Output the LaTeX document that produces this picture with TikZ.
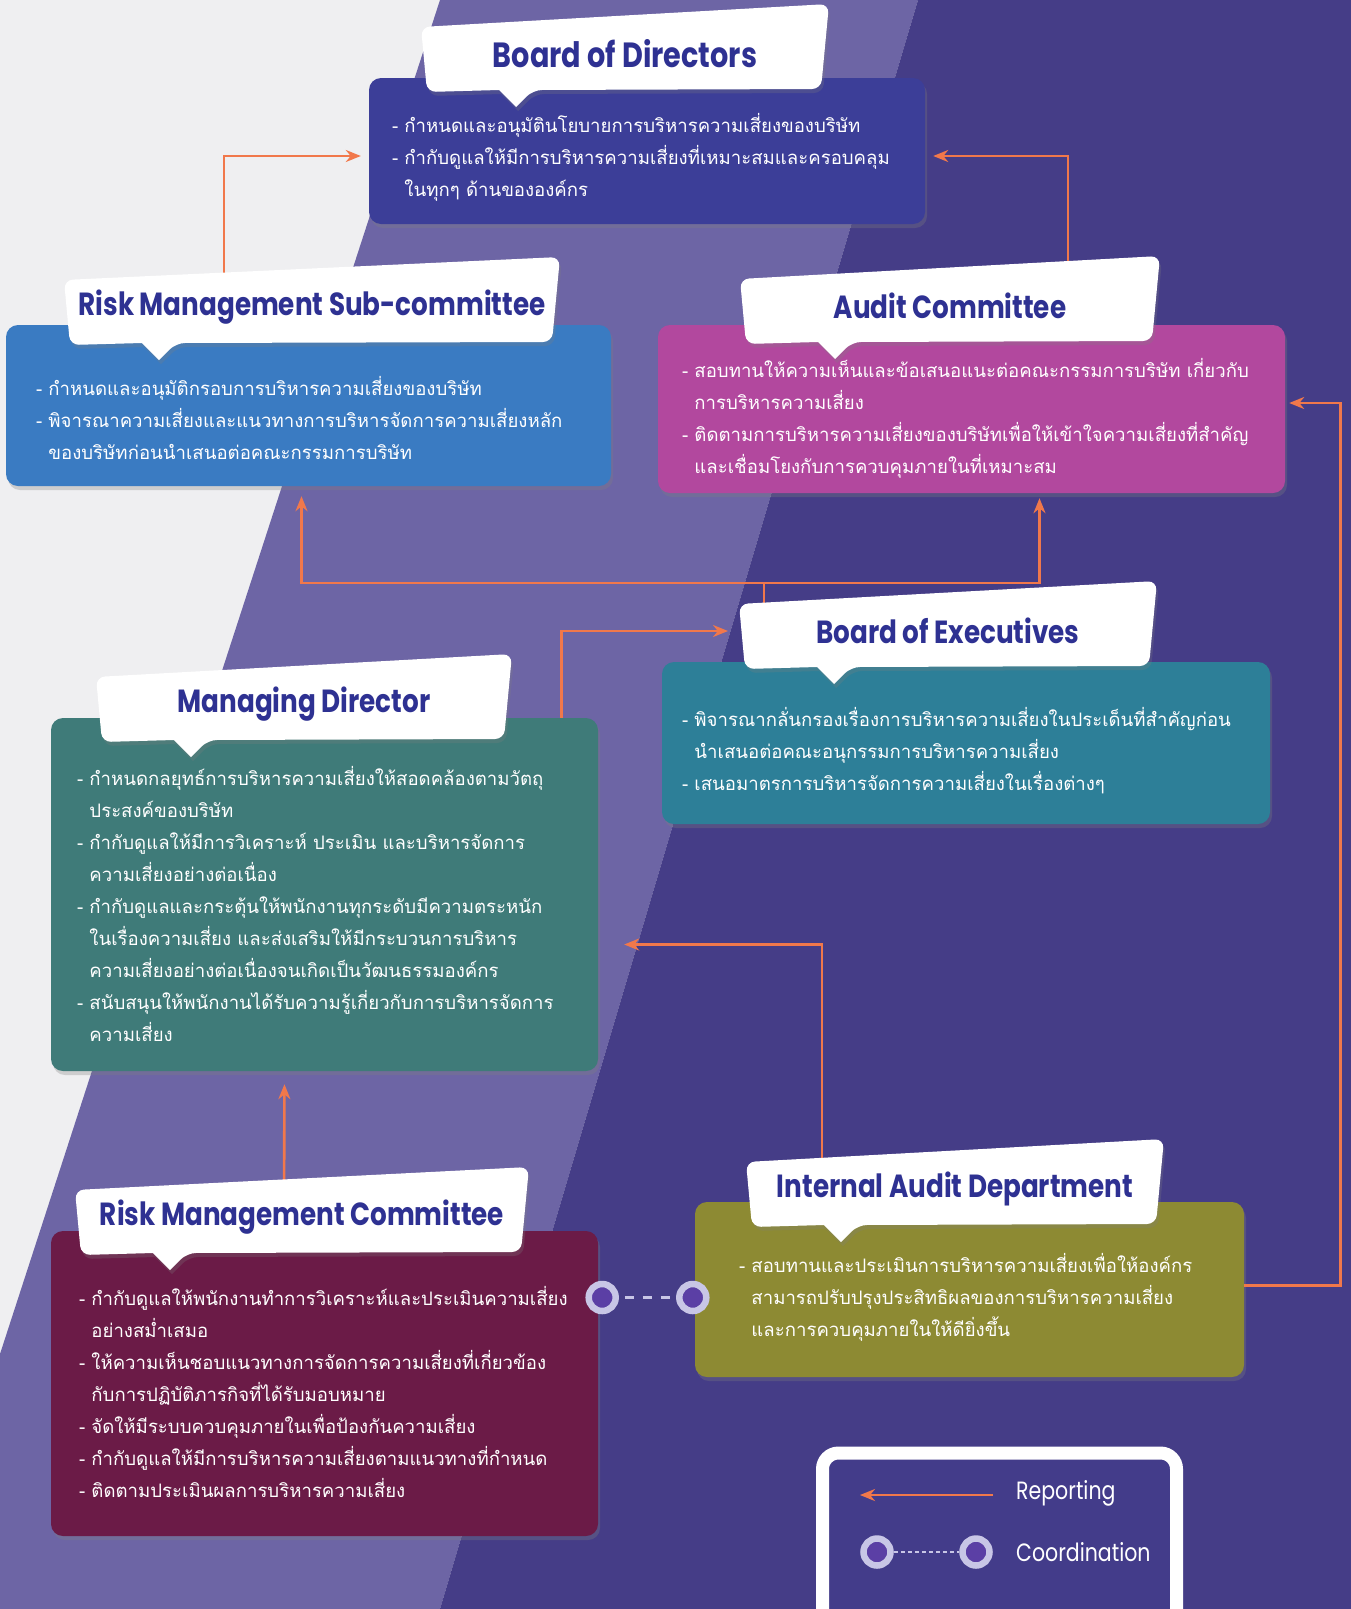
\documentclass[tikz,border=0pt]{standalone}
\usepackage{fontspec}
\setmainfont{Poppins}[FakeStretch=0.82]
\newfontfamily\thaifont[Script=Thai]{Loma}
\usetikzlibrary{arrows.meta,calc,shadows}

\definecolor{bgGray}{HTML}{EFEFF1}
\definecolor{bgBand}{HTML}{6D65A5}
\definecolor{bgDark}{HTML}{453D87}
\definecolor{bodFill}{HTML}{3C3E98}
\definecolor{rmsFill}{HTML}{3A7BC2}
\definecolor{acFill}{HTML}{B2489E}
\definecolor{boeFill}{HTML}{2D7F98}
\definecolor{mdFill}{HTML}{3F7B79}
\definecolor{rmcFill}{HTML}{6B1B47}
\definecolor{iadFill}{HTML}{8D8A33}
\definecolor{titleBlue}{HTML}{2E3192}
\definecolor{repOrange}{HTML}{F1784B}
\definecolor{ringLight}{HTML}{C8C6E6}
\definecolor{ringFill}{HTML}{5B3FA5}
\definecolor{legendFill}{HTML}{433C8A}

\newcommand{\cont}{\hphantom{- }}
% white title tab round the coordinate (#2T)
\newcommand{\tabshape}[4][]{%
  \fill[tabfill] ($(#2T)+(-#3,-27)$) -- ($(#2T)+(#3,-50)$) -- ($(#2T)+(#3-8,35)$)
    -- ($(#2T)+(-#3+112,36)$) [sharp corners] -- ($(#2T)+(-#3+95,53)$)
    -- ($(#2T)+(-#3+78,36)$) [rounded corners=9pt] -- ($(#2T)+(-#3+6,38)$) -- cycle;
  \node[ttl,#1] (#2Title) at (#2T) {#4};}

\begin{document}
\begin{tikzpicture}[x=1pt, y=-1pt,
  body/.style={rectangle, rounded corners=12pt, inner sep=0pt,
    drop shadow={opacity=0.3, shadow xshift=2pt, shadow yshift=-4pt}},
  txt/.style={text=white, align=left, anchor=west, inner sep=0pt,
    font=\thaifont\fontsize{18.6}{32}\selectfont},
  ttl/.style={text=titleBlue, inner sep=0pt, font=\fontsize{32}{36}\selectfont\bfseries},
  tabfill/.style={fill=white, rounded corners=9pt,
    drop shadow={opacity=0.25, shadow xshift=2pt, shadow yshift=-4pt}},
  rep/.style={draw=repOrange, line width=2.6pt, -{Stealth[length=15pt, width=12pt]}},
  link/.style={draw=repOrange, line width=2.6pt},
  ring/.style={circle, draw=ringLight, line width=6.5pt, fill=ringFill,
    minimum size=27pt, inner sep=0pt},
  lgd/.style={text=white, anchor=west, inner sep=0pt, font=\fontsize{25}{28}\selectfont}]

  % background
  \useasboundingbox (0,0) rectangle (1351,1609);
  \fill[bgGray] (0,0) rectangle (1351,1609);
  \fill[bgBand] (440,0) -- (918,0) -- (440,1609) -- (0,1609) -- (0,1354) -- cycle;
  \fill[bgDark] (918,0) -- (1351,0) -- (1351,1609) -- (440,1609) -- cycle;

  % boxes
  \node[body, fill=bodFill, minimum width=556pt, minimum height=146pt] (bod) at (647,151) {};
  \node[txt] (bodx) at ([shift={(23,6)}]bod.west)
    {- กำหนดและอนุมัตินโยบายการบริหารความเสี่ยงของบริษัท\\
     - กำกับดูแลให้มีการบริหารความเสี่ยงที่เหมาะสมและครอบคลุม\\
     \cont ในทุกๆ ด้านขององค์กร};

  \node[body, fill=rmsFill, minimum width=605pt, minimum height=161pt] (rms) at (308.5,405.5) {};
  \node[txt] (rmsx) at ([shift={(30,12)}]rms.west)
    {- กำหนดและอนุมัติกรอบการบริหารความเสี่ยงของบริษัท\\
     - พิจารณาความเสี่ยงและแนวทางการบริหารจัดการความเสี่ยงหลัก\\
     \cont ของบริษัทก่อนนำเสนอต่อคณะกรรมการบริษัท};

  \node[body, fill=acFill, minimum width=627pt, minimum height=168pt] (ac) at (971.5,409) {};
  \node[txt] (acx) at ([shift={(24,9)}]ac.west)
    {- สอบทานให้ความเห็นและข้อเสนอแนะต่อคณะกรรมการบริษัท เกี่ยวกับ\\
     \cont การบริหารความเสี่ยง\\
     - ติดตามการบริหารความเสี่ยงของบริษัทเพื่อให้เข้าใจความเสี่ยงที่สำคัญ\\
     \cont และเชื่อมโยงกับการควบคุมภายในที่เหมาะสม};

  \node[body, fill=boeFill, minimum width=608pt, minimum height=162pt] (boe) at (966,743) {};
  \node[txt] (boex) at ([shift={(20,8)}]boe.west)
    {- พิจารณากลั่นกรองเรื่องการบริหารความเสี่ยงในประเด็นที่สำคัญก่อน\\
     \cont นำเสนอต่อคณะอนุกรรมการบริหารความเสี่ยง\\
     - เสนอมาตรการบริหารจัดการความเสี่ยงในเรื่องต่างๆ};

  \node[body, fill=mdFill, minimum width=547pt, minimum height=353pt] (md) at (324.5,894.5) {};
  \node[txt] (mdx) at ([shift={(26,9)}]md.west)
    {- กำหนดกลยุทธ์การบริหารความเสี่ยงให้สอดคล้องตามวัตถุ\\
     \cont ประสงค์ของบริษัท\\
     - กำกับดูแลให้มีการวิเคราะห์ ประเมิน และบริหารจัดการ\\
     \cont ความเสี่ยงอย่างต่อเนื่อง\\
     - กำกับดูแลและกระตุ้นให้พนักงานทุกระดับมีความตระหนัก\\
     \cont ในเรื่องความเสี่ยง และส่งเสริมให้มีกระบวนการบริหาร\\
     \cont ความเสี่ยงอย่างต่อเนื่องจนเกิดเป็นวัฒนธรรมองค์กร\\
     - สนับสนุนให้พนักงานได้รับความรู้เกี่ยวกับการบริหารจัดการ\\
     \cont ความเสี่ยง};

  \node[body, fill=rmcFill, minimum width=547pt, minimum height=305pt] (rmc) at (324.5,1383.5) {};
  \node[txt] (rmcx) at ([shift={(28,8)}]rmc.west)
    {- กำกับดูแลให้พนักงานทำการวิเคราะห์และประเมินความเสี่ยง\\
     \cont อย่างสม่ำเสมอ\\
     - ให้ความเห็นชอบแนวทางการจัดการความเสี่ยงที่เกี่ยวข้อง\\
     \cont กับการปฏิบัติภารกิจที่ได้รับมอบหมาย\\
     - จัดให้มีระบบควบคุมภายในเพื่อป้องกันความเสี่ยง\\
     - กำกับดูแลให้มีการบริหารความเสี่ยงตามแนวทางที่กำหนด\\
     - ติดตามประเมินผลการบริหารความเสี่ยง};

  \node[body, fill=iadFill, minimum width=549pt, minimum height=175pt] (iad) at (969.5,1289.5) {};
  \node[txt] (iadx) at ([shift={(44,8)}]iad.west)
    {- สอบทานและประเมินการบริหารความเสี่ยงเพื่อให้องค์กร\\
     \cont สามารถปรับปรุงประสิทธิผลของการบริหารความเสี่ยง\\
     \cont และการควบคุมภายในให้ดียิ่งขึ้น};

  % tab centres
  \coordinate (bodT) at (625,54);
  \coordinate (rmsT) at (312,307);
  \coordinate (acT) at (950,306);
  \coordinate (boeT) at (948,631);
  \coordinate (mdT) at (304,704);
  \coordinate (rmcT) at (302,1217);
  \coordinate (iadT) at (955,1189);
  \coordinate (split) at (764,583);

  % reporting lines
  \draw[rep, shorten >=8pt] ([xshift=-88pt]rmsT) |- ([yshift=-5pt]bod.west);
  \draw[rep, shorten >=8pt] ([xshift=118pt]acT) |- ([yshift=-5pt]bod.east);
  \draw[link] (boeT -| split) -- (split);
  \draw[rep, shorten >=10pt] (split) -| ([xshift=-7pt]rms.south);
  \draw[rep, shorten >=5pt] (split) -| ([xshift=68pt]ac.south);
  \draw[rep, shorten >=11pt] ([xshift=-37pt]md.north east) |- ([xshift=-209pt]boeT);
  \draw[rep, shorten >=26pt] ([xshift=-133pt]iadT) |- ([yshift=-50pt]md.east);
  \draw[rep, shorten >=4pt] ([yshift=4pt]iad.east) -- ++(96,0) |- ([yshift=6pt]ac.east);
  \draw[rep, shorten >=13pt] ([xshift=-18pt]rmcT) -- ([xshift=-40pt]md.south);

  % coordination
  \node[ring, xshift=4pt] (ringL) at (rmc.east |- iadx.west) {};
  \node[ring, xshift=-2pt] (ringR) at (iad.west |- iadx.west) {};
  \draw[ringLight, line width=3pt, dash pattern=on 9pt off 9pt, dash phase=-6pt] (ringL) -- (ringR);

  % title tabs
  \tabshape[font=\fontsize{35}{38}\selectfont\bfseries]{bod}{204}{Board of Directors}
  \tabshape{rms}{248}{Risk Management Sub-committee}
  \tabshape{ac}{210}{Audit Committee}
  \tabshape{boe}{209}{Board of Executives}
  \tabshape{md}{208}{Managing Director}
  \tabshape{rmc}{227}{Risk Management Committee}
  \tabshape{iad}{209}{Internal Audit Department}

  % legend
  \node[draw=white, line width=13pt, fill=legendFill, rounded corners=16pt,
    minimum width=354pt, minimum height=180pt] (legend) at (999.5,1543) {};
  \node[lgd] (repL) at (1016,1493) {Reporting};
  \node[lgd] (coL) at (1016,1552) {Coordination};
  \coordinate (repA) at (993,1495);
  \coordinate (repB) at (860,1495);
  \draw[rep] (repA) -- (repB);
  \node[ring] (lgL) at (877,1552) {};
  \node[ring] (lgR) at (976,1552) {};
  \draw[ringLight, line width=2.5pt, dash pattern=on 4pt off 3pt] (lgL) -- (lgR);
\end{tikzpicture}
\end{document}
